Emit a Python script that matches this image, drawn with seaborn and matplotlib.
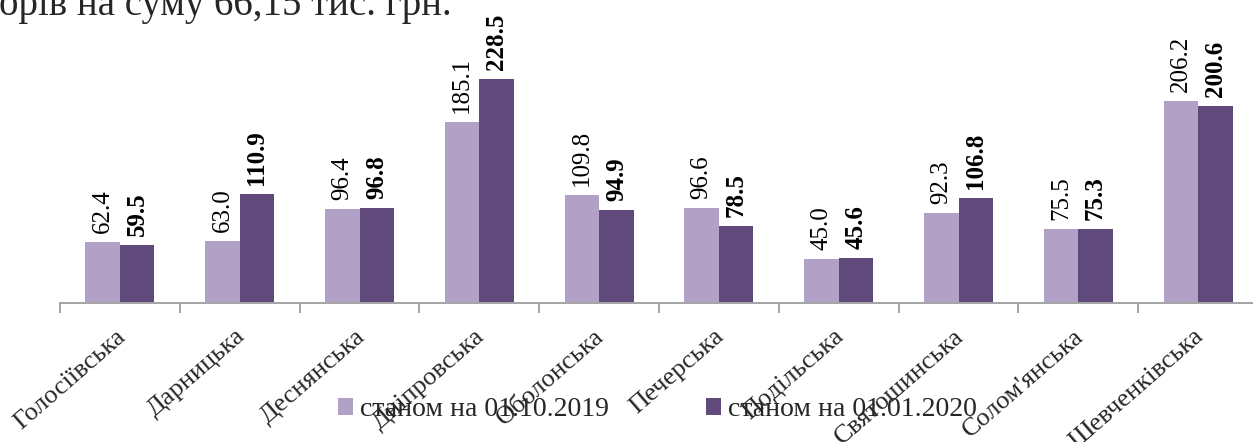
import matplotlib
matplotlib.use('Agg')
import matplotlib.pyplot as plt
import matplotlib.transforms as mtransforms
import pandas as pd
import seaborn as sns

# data
districts = ['Голосіївська', 'Дарницька', 'Деснянська', 'Дніпровська',
             'Оболонська', 'Печерська', 'Подільська', 'Святошинська',
             "Солом'янська", 'Шевченківська']
oct_2019 = [62.4, 63.0, 96.4, 185.1, 109.8, 96.6, 45.0, 92.3, 75.5, 206.2]
jan_2020 = [59.5, 110.9, 96.8, 228.5, 94.9, 78.5, 45.6, 106.8, 75.3, 200.6]
series_names = ['станом на 01.10.2019', 'станом на 01.01.2020']
colors = ['#B2A1C7', '#604A7B']
header_text = 'орів на суму 66,15 тис. грн.'


def build_frame():
    """long-format table for seaborn"""
    rows = []
    for name, values in zip(series_names, [oct_2019, jan_2020]):
        for district, value in zip(districts, values):
            rows.append({'district': district, 'series': name, 'value': value})
    return pd.DataFrame(rows)


def main():
    sns.set_style('white')
    plt.rcParams['font.family'] = ['Liberation Serif', 'DejaVu Serif']

    df = build_frame()
    fig = plt.figure(figsize=(12.53, 4.42), dpi=100)
    ax = fig.add_axes([60 / 1253, 139 / 442, 1198 / 1253, 245 / 442])

    sns.barplot(data=df, x='district', y='value', hue='series',
                hue_order=series_names, palette=colors, saturation=1,
                width=0.577, errorbar=None, linewidth=0, ax=ax)

    # value labels: first series regular, second bold
    for container, weight in zip(ax.containers, ['normal', 'bold']):
        ax.bar_label(container, fmt='%.1f', rotation=90, padding=6.5,
                     fontsize=18, fontweight=weight, color='black')

    ax.set_ylim(0, 250)
    ax.set_xlim(-0.5, len(districts) - 0.5)
    ax.set_xlabel('')
    ax.set_ylabel('')
    ax.set_yticks([])
    for side in ['left', 'right', 'top']:
        ax.spines[side].set_visible(False)
    ax.spines['bottom'].set_color('#A6A6A6')
    ax.spines['bottom'].set_linewidth(1.44)

    # tick marks between categories, labels at category centres
    ax.set_xticks([i - 0.5 for i in range(len(districts) + 1)])
    ax.set_xticklabels([])
    ax.tick_params(axis='x', which='major', length=7.2, width=1.44,
                   color='#A6A6A6', direction='out', bottom=True)
    ax.set_xticks(range(len(districts)), minor=True)
    ax.set_xticklabels(districts, minor=True, rotation=41, ha='right',
                       va='top', rotation_mode='anchor', fontsize=19)
    ax.tick_params(axis='x', which='minor', length=0, pad=16)
    shift = mtransforms.ScaledTranslation(-5 / 100, 0, fig.dpi_scale_trans)
    for label in ax.get_xticklabels(minor=True):
        label.set_transform(label.get_transform() + shift)

    handles, labels = ax.get_legend_handles_labels()
    ax.legend_.remove()
    fig.legend(handles, labels, loc='center', ncol=2, frameon=False,
               bbox_to_anchor=(657.5 / 1253, 1 - 410 / 442),
               fontsize=20, handlelength=0.54, handleheight=0.54,
               handletextpad=0.25, columnspacing=3.5, borderpad=0)

    fig.text(-0.001, 1 - 15 / 442, header_text, fontsize=28, va='baseline')

    fig.savefig('out.png', dpi=100, facecolor='white')


if __name__ == '__main__':
    main()
